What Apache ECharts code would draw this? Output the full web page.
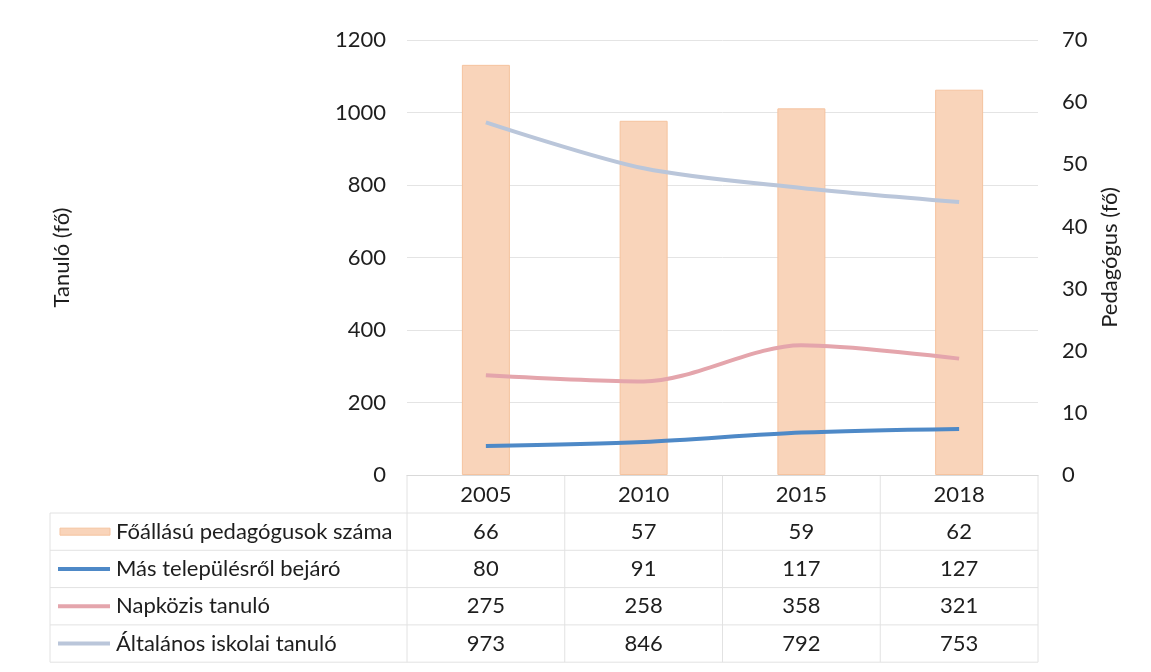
<!DOCTYPE html>
<html><head><meta charset="utf-8">
<script src="https://cdn.jsdelivr.net/npm/echarts@6/dist/echarts.min.js"></script>
<style>html,body{margin:0;padding:0;background:#fff}#c{width:1151px;height:672px}</style>
</head><body><div id="c"></div>
<script>
const years = ['2005','2010','2015','2018'];
const pedagogus = [66, 57, 59, 62];
const bejaro = [80, 91, 117, 127];
const napkozis = [275, 258, 358, 321];
const altalanos = [973, 846, 792, 753];
const leftTicks = [0, 1200, 200];
const rightTicks = [0, 70, 10];
const names = ['Főállású pedagógusok száma','Más településről bejáró','Napközis tanuló','Általános iskolai tanuló'];
const colors = ['#F9D4BA','#4E89C7','#E4A5AC','#BAC6DA'];
const rows = [pedagogus, bejaro, napkozis, altalanos];

const FONT = 'Lato, "Open Sans", sans-serif';
const FS = 22;
const TXT = '#1e1e1e';
const chart = echarts.init(document.getElementById('c'));
const grid = {left: 407, right: 113, top: 40, bottom: 197};
const option = {
  animation: false,
  grid: grid,
  xAxis: {type:'category', data: years, boundaryGap: true,
    axisLine:{lineStyle:{color:'#D9D9D9'}}, axisTick:{show:false},
    axisLabel:{color:TXT, fontSize:FS, fontFamily:FONT, margin:9}},
  yAxis: [
    {type:'value', min:leftTicks[0], max:leftTicks[1], interval:leftTicks[2],
     name:'Tanuló (fő)', nameLocation:'middle', nameGap:334, nameRotate:90,
     nameTextStyle:{color:TXT, fontSize:FS, fontFamily:FONT},
     axisLine:{show:false}, axisTick:{show:false},
     axisLabel:{color:TXT, fontSize:FS, fontFamily:FONT, margin:21, formatter:v=>String(v)},
     splitLine:{lineStyle:{color:'#E4E4E4', width:1}}},
    {type:'value', min:rightTicks[0], max:rightTicks[1], interval:rightTicks[2],
     name:'Pedagógus (fő)', nameLocation:'middle', nameGap:60, nameRotate:90,
     nameTextStyle:{color:TXT, fontSize:FS, fontFamily:FONT},
     axisLine:{show:false}, axisTick:{show:false},
     axisLabel:{color:TXT, fontSize:FS, fontFamily:FONT, margin:24, formatter:v=>String(v)},
     splitLine:{show:false}}
  ],
  series: [
    {name:names[0], type:'bar', yAxisIndex:1, data:pedagogus, barWidth:48,
     itemStyle:{color:colors[0], borderColor:'#F5C39F', borderWidth:1}, z:1},
    {name:names[1], type:'line', yAxisIndex:0, data:bejaro, smooth:0.3, symbol:'none',
     lineStyle:{color:colors[1], width:4}, z:3},
    {name:names[2], type:'line', yAxisIndex:0, data:napkozis, smooth:0.3, symbol:'none',
     lineStyle:{color:colors[2], width:4}, z:3},
    {name:names[3], type:'line', yAxisIndex:0, data:altalanos, smooth:0.3, symbol:'none',
     lineStyle:{color:colors[3], width:4}, z:3}
  ]
};
chart.setOption(option);

// Build data table from arrays
const plotLeft = grid.left, plotRight = 1151 - grid.right;
const axisY = 672 - grid.bottom;
const headerBottom = axisY + 38;
const rowH = 37.3;
const tableLeft = 50;
const tableBottom = headerBottom + rowH * rows.length;
const lineC = '#E2E2E2';
const els = [];
const centers = years.map((y,i)=>chart.convertToPixel({xAxisIndex:0}, y));
const step = centers.length>1 ? centers[1]-centers[0] : (plotRight-plotLeft);
const bounds = [plotLeft].concat(centers.map(c=>c+step/2));
bounds.forEach(x=>{
  els.push({type:'line', shape:{x1:x,y1:axisY,x2:x,y2:tableBottom}, style:{stroke:lineC,lineWidth:1}, silent:true});
});
els.push({type:'line', shape:{x1:tableLeft,y1:headerBottom,x2:tableLeft,y2:tableBottom}, style:{stroke:lineC,lineWidth:1}});
for (let r=0;r<=rows.length;r++){
  const y = headerBottom + r*rowH;
  els.push({type:'line', shape:{x1:tableLeft,y1:y,x2:bounds[bounds.length-1],y2:y}, style:{stroke:lineC,lineWidth:1}});
}
rows.forEach((arr,r)=>{
  const cy = headerBottom + r*rowH + rowH/2;
  if (r===0) {
    els.push({type:'rect', shape:{x:60,y:cy-3.5,width:50,height:7}, style:{fill:colors[0], stroke:'#F5C39F', lineWidth:1}});
  } else {
    els.push({type:'line', shape:{x1:58,y1:cy,x2:110,y2:cy}, style:{stroke:colors[r], lineWidth:4}});
  }
  els.push({type:'text', x:116, y:cy, style:{text:names[r], fill:TXT, font:FS+'px '+FONT, textAlign:'left', textVerticalAlign:'middle'}});
  arr.forEach((v,i)=>{
    els.push({type:'text', x:centers[i], y:cy, style:{text:String(v), fill:TXT, font:FS+'px '+FONT, textAlign:'center', textVerticalAlign:'middle'}});
  });
});
chart.setOption({graphic:{elements:els}});
</script>
</body></html>
